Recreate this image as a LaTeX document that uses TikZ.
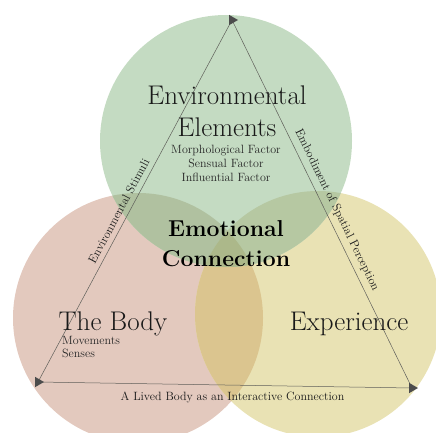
\documentclass[tikz,border=0pt]{standalone}
\usepackage{fontspec}
\usepackage{tikz}
\usetikzlibrary{shapes.geometric}
\definecolor{EnvGreen}{RGB}{196,219,194}
\definecolor{BodyPink}{RGB}{227,201,190}
\definecolor{ExpYellow}{RGB}{233,226,180}
\definecolor{GreenPink}{RGB}{176,193,160}
\definecolor{GreenYellow}{RGB}{182,200,162}
\definecolor{PinkYellow}{RGB}{219,197,143}
\definecolor{CenterOlive}{RGB}{172,184,138}
\definecolor{EdgeGray}{RGB}{95,95,90}
\tikzset{
  edgeline/.style={draw=EdgeGray,line width=0.5pt},
  tipmark/.style={isosceles triangle,isosceles triangle apex angle=60,
    fill=black!70,inner sep=0pt,minimum height=9pt,minimum width=9pt},
  edgelabel/.style={font=\fontsize{12}{13}\selectfont,inner sep=0pt,text=black!90},
  bigname/.style={font=\fontsize{27}{32}\selectfont,align=center,text=black!90,inner sep=0pt},
  corename/.style={font=\bfseries\fontsize{23}{30}\selectfont,align=center,text=black,inner sep=0pt},
  factors/.style={font=\fontsize{12}{14}\selectfont,align=center,text=black!85,inner sep=0pt},
}
\begin{document}
\begin{tikzpicture}[x=1pt,y=-1pt]
  \useasboundingbox (0,0) rectangle (436,433);
  % the three circles
  \coordinate (greenc) at (226,141);
  \coordinate (pinkc) at (138,318);
  \coordinate (yelc) at (318,314);
  \fill[BodyPink] (pinkc) circle (125pt);
  \fill[ExpYellow] (yelc) circle (123pt);
  \fill[EnvGreen] (greenc) circle (126pt);
  % overlaps
  \begin{scope}
    \clip (pinkc) circle (125pt);
    \fill[PinkYellow] (yelc) circle (123pt);
    \fill[GreenPink] (greenc) circle (126pt);
  \end{scope}
  \begin{scope}
    \clip (yelc) circle (123pt);
    \fill[GreenYellow] (greenc) circle (126pt);
    \clip (pinkc) circle (125pt);
    \fill[CenterOlive] (greenc) circle (126pt);
  \end{scope}
  % triangle of relations
  \coordinate (envv) at (232,20);
  \coordinate (bodyv) at (38,382);
  \coordinate (expv) at (412,388);
  \draw[edgeline] (bodyv) -- node[sloped,above=5pt,pos=0.46,edgelabel] {Environmental Stimuli} (envv);
  \draw[edgeline] (envv) -- node[sloped,above=5pt,pos=0.53,edgelabel] {Embodiment of Spatial Perception} (expv);
  \draw[edgeline] (bodyv) -- node[below=7pt,pos=0.52,edgelabel] {A Lived Body as an Interactive Connection} (expv);
  \node[tipmark] (envtip) at (envv) {};
  \node[tipmark] (bodytip) at (bodyv) {};
  \node[tipmark] (exptip) at (expv) {};
  % names and factors
  \node[bigname] (env) at (227,111) {Environmental\\Elements};
  \node[factors] (envfactors) at (226,163) {Morphological Factor\\Sensual Factor\\Influential Factor};
  \node[corename] (core) at (226,244) {Emotional\\Connection};
  \node[bigname,anchor=base] (body) at (113,330) {The Body};
  \node[factors,font=\fontsize{12}{13}\selectfont,align=left,anchor=north west] (bodyfactors) at (62,336) {Movements\\Senses};
  \node[bigname,anchor=base] (exp) at (349,330) {Experience};
\end{tikzpicture}
\end{document}
